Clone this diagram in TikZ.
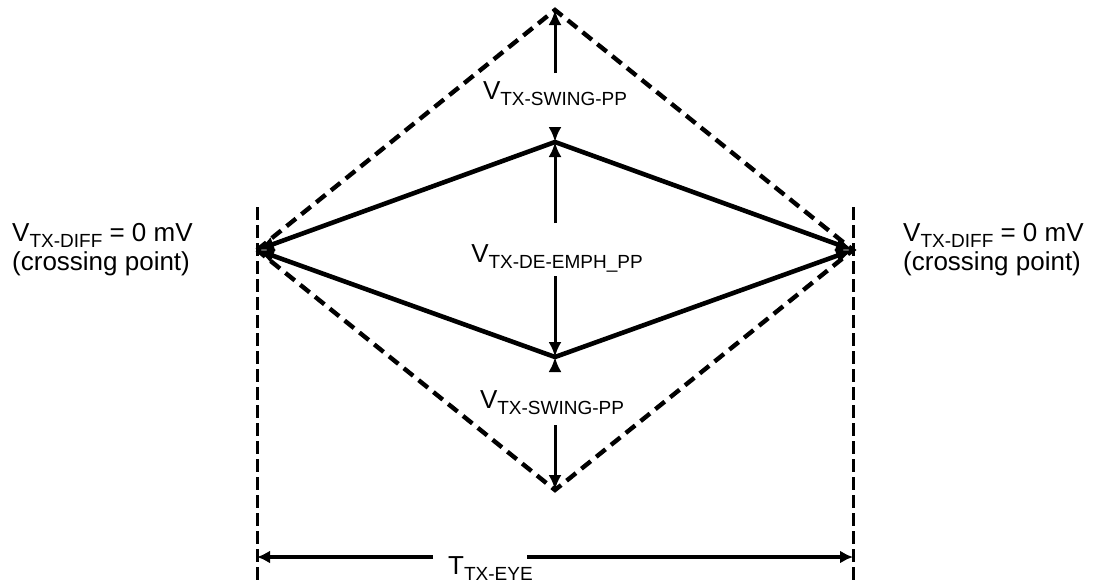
\documentclass[tikz,border=0pt]{standalone}
\usepackage{fontspec}
\setmainfont{Liberation Sans}
\usetikzlibrary{arrows.meta}
\newcommand\mysub[2]{#1\raisebox{-6pt}{\fontsize{19}{19}\selectfont #2}}
\begin{document}
\begin{tikzpicture}[x=1pt,y=-1pt,
  lbl/.style={inner sep=0pt, font=\fontsize{26}{31}\selectfont},
  outerdash/.style={line width=4.4pt, dash pattern=on 12pt off 7pt, line join=miter},
  innerline/.style={line width=4.6pt, line cap=round, -{Latex[length=17pt,width=15pt]}},
  varr/.style={line width=3pt, -{Latex[length=15pt,width=13pt]}},
  tarr/.style={line width=3.2pt, -{Latex[length=13pt,width=13pt]}},
  vbar/.style={line width=3pt, dash pattern=on 13pt off 5pt}
]
\useasboundingbox (0,0) rectangle (1099,582);
% key points
\coordinate (L) at (257,250);
\coordinate (R) at (853,250);
\coordinate (Top) at (555,10);
\coordinate (Bot) at (555,490);
\coordinate (SU) at (555,142);
\coordinate (SL) at (555,357);
% vertical reference bars
\coordinate (Lb1) at (257,207);
\coordinate (Lb2) at (257,582);
\coordinate (Rb1) at (853,207);
\coordinate (Rb2) at (853,582);
\draw[vbar] (Lb1) -- (Lb2);
\draw[vbar] (Rb1) -- (Rb2);
% outer dashed diamond
\draw[outerdash] (L) -- (Top) -- (R) -- (Bot) -- cycle;
% inner solid eye
\draw[innerline] (SU) -- (L);
\draw[innerline] (SL) -- (L);
\draw[innerline] (SU) -- (R);
\draw[innerline] (SL) -- (R);
% labels on the center line
\node[lbl, anchor=base] (swT) at (555,99) {\mysub{V}{TX-SWING-PP}};
\node[lbl, anchor=base] (de) at (557,262) {\mysub{V}{TX-DE-EMPH\_PP}};
\node[lbl, anchor=base] (swB) at (552,408) {\mysub{V}{TX-SWING-PP}};
% vertical arrows
\coordinate (t1) at (555,73);
\coordinate (t2) at (555,127);
\coordinate (m1) at (555,223);
\coordinate (m2) at (555,276);
\coordinate (b1) at (555,372);
\coordinate (b2) at (555,425);
\draw[varr] (t1) -- (Top);
\draw[varr] (t2) -- (SU);
\draw[varr] (m1) -- (SU);
\draw[varr] (m2) -- (SL);
\draw[varr] (b1) -- (SL);
\draw[varr] (b2) -- (Bot);
% eye width arrow
\coordinate (eL) at (257,557);
\coordinate (eR) at (853,557);
\coordinate (g1) at (433,557);
\coordinate (g2) at (527,557);
\draw[tarr] (g1) -- (eL);
\draw[tarr] (g2) -- (eR);
\node[lbl, anchor=base west] (teye) at (448,574) {\mysub{T}{TX-EYE}};
% side texts
\node[lbl, anchor=base west] (ldiff) at (12,241) {\mysub{V}{TX-DIFF} = 0 mV};
\node[lbl, anchor=base west] (lcross) at (12,270) {(crossing point)};
\node[lbl, anchor=base west] (rdiff) at (903,241) {\mysub{V}{TX-DIFF} = 0 mV};
\node[lbl, anchor=base west] (rcross) at (903,270) {(crossing point)};
\end{tikzpicture}
\end{document}
